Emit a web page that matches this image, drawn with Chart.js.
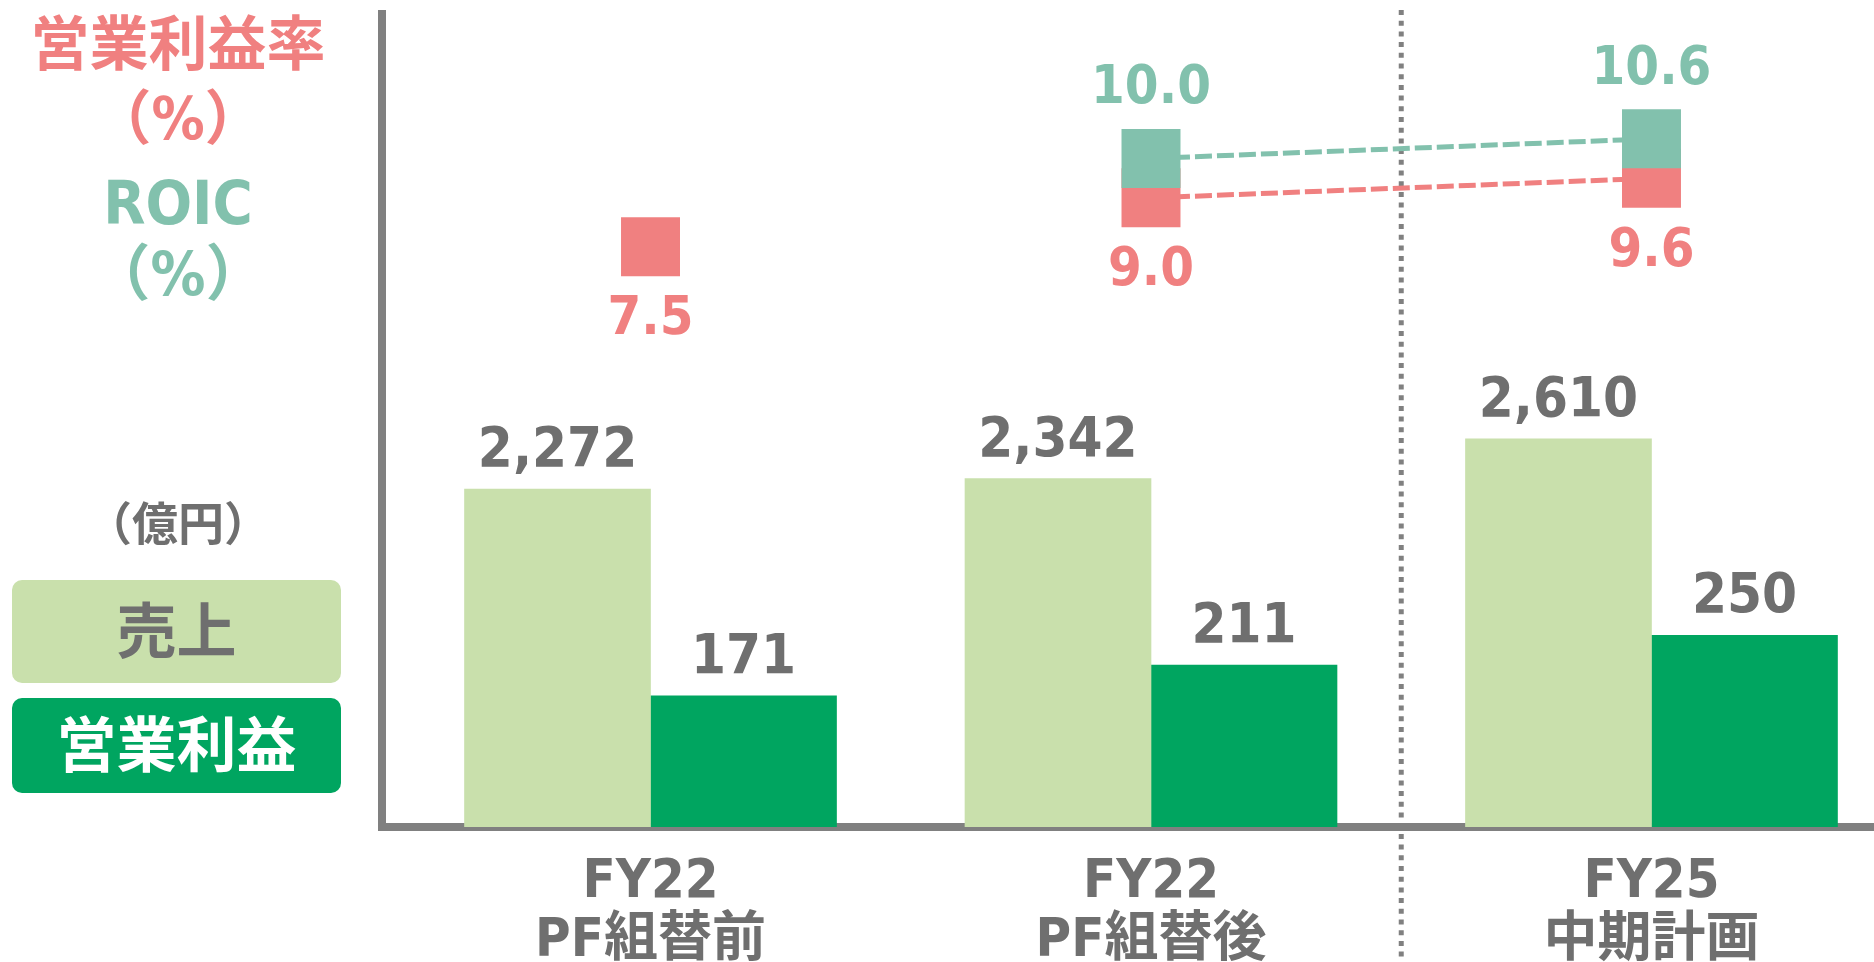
<!DOCTYPE html>
<html lang="ja">
<head>
<meta charset="utf-8">
<title>売上・営業利益・営業利益率・ROIC</title>
<script src="https://cdn.jsdelivr.net/npm/chart.js@4.4.1/dist/chart.umd.min.js"></script>
<style>
  html, body { margin: 0; padding: 0; background: #fff; overflow: hidden; }
  body {
    width: 1874px; height: 962px; position: relative;
    font-family: "DejaVu Sans Condensed", "Noto Sans CJK JP", sans-serif;
    font-weight: bold;
  }
  .chart-wrap { position: absolute; left: 0; top: 0; width: 1874px; height: 962px; }
  .side { position: absolute; left: 0; width: 356px; text-align: center; line-height: 1; white-space: nowrap; }
  .margin-title { color: #F08080; font-size: 59px; }
  .roic-title { color: #82C1AD; font-size: 61px; }
  .unit { color: #6F6F6F; font-size: 46px; }
  .legend-box {
    position: absolute; left: 12px; width: 329px; border-radius: 10px;
    display: flex; align-items: center; justify-content: center;
    font-size: 60px; line-height: 1;
  }
  .legend-sales { top: 580px; height: 103px; background: #C9E0AC; color: #6F6F6F; }
  .legend-profit { top: 698px; height: 95px; background: #00A560; color: #fff; }
</style>
</head>
<body>
<div class="chart-wrap"><canvas id="chart"></canvas></div>

<div class="side margin-title" style="top: 15px;">営業利益率</div>
<div class="side margin-title" style="top: 89px;">（%）</div>
<div class="side roic-title" style="top: 172px;">ROIC</div>
<div class="side roic-title" style="top: 243px;">（%）</div>
<div class="side unit" style="top: 501px;">（億円）</div>
<div class="legend-box legend-sales">売上</div>
<div class="legend-box legend-profit">営業利益</div>

<script>
// categories
const fiscalYears = ["FY22", "FY22", "FY25"];
const periodNotes = ["PF組替前", "PF組替後", "中期計画"];

// 億円
const sales = [2272, 2342, 2610];
const operatingProfit = [171, 211, 250];

// %
const operatingMargin = [7.5, 9.0, 9.6];
const roic = [null, 10.0, 10.6];

const salmon = "#F08080";
const teal = "#82C1AD";
const salesColor = "#C9E0AC";
const profitColor = "#00A560";
const textGray = "#6F6F6F";
const axisGray = "#808080";
const labelFont = '"DejaVu Sans Condensed", "Noto Sans CJK JP", sans-serif';

const toPoints = (values) => values.map((v, i) => ({ x: i, y: v }));

// value labels above bars, above / below the percentage squares
const valueLabels = {
  id: "valueLabels",
  afterDatasetsDraw(chart) {
    const ctx = chart.ctx;
    ctx.save();
    ctx.textAlign = "center";
    ctx.textBaseline = "alphabetic";
    chart.data.datasets.forEach((ds, di) => {
      const meta = chart.getDatasetMeta(di);
      meta.data.forEach((el, i) => {
        const v = ds.data[i].y;
        if (v === null || v === undefined) return;
        if (ds.kind === "amount") {
          ctx.font = "bold 56px " + labelFont;
          ctx.fillStyle = textGray;
          ctx.fillText(v.toLocaleString("en-US"), el.x, el.y - 23);
        } else if (ds.kind === "margin") {
          ctx.font = "bold 54px " + labelFont;
          ctx.fillStyle = salmon;
          ctx.fillText(v.toFixed(1), el.x, el.y + 87.5);
        } else if (ds.kind === "roic") {
          ctx.font = "bold 54px " + labelFont;
          ctx.fillStyle = teal;
          ctx.fillText(v.toFixed(1), el.x, el.y - 55);
        }
      });
    });
    ctx.restore();
  },
};

// dotted separator between actuals and the mid-term plan
const planDivider = {
  id: "planDivider",
  beforeDatasetsDraw(chart) {
    const x = chart.scales.x.getPixelForValue(1.5);
    const ctx = chart.ctx;
    ctx.save();
    ctx.strokeStyle = axisGray;
    ctx.lineWidth = 5;
    ctx.setLineDash([5, 5.7]);
    ctx.beginPath();
    ctx.moveTo(x, chart.chartArea.top - 4);
    ctx.lineTo(x, chart.height - 4);
    ctx.stroke();
    ctx.restore();
  },
};

new Chart(document.getElementById("chart"), {
  type: "bar",
  data: {
    datasets: [
      {
        type: "line",
        kind: "roic",
        label: "ROIC",
        data: toPoints(roic),
        yAxisID: "yRoic",
        order: 0,
        borderColor: teal,
        borderWidth: 5,
        borderDash: [17, 5],
        pointStyle: "rect",
        pointRadius: 41.7,
        pointHoverRadius: 41.7,
        pointBackgroundColor: teal,
        pointBorderWidth: 0,
        fill: false,
      },
      {
        type: "line",
        kind: "margin",
        label: "営業利益率",
        data: toPoints(operatingMargin),
        yAxisID: "yPct",
        order: 1,
        borderColor: salmon,
        borderWidth: 5,
        borderDash: [17, 5],
        segment: {
          borderColor: (c) => (c.p0DataIndex === 0 ? "rgba(0,0,0,0)" : salmon),
        },
        pointStyle: "rect",
        pointRadius: 41.7,
        pointHoverRadius: 41.7,
        pointBackgroundColor: salmon,
        pointBorderWidth: 0,
        fill: false,
      },
      {
        kind: "amount",
        label: "売上",
        data: toPoints(sales),
        yAxisID: "y",
        order: 2,
        backgroundColor: salesColor,
        borderWidth: 0,
      },
      {
        kind: "amount",
        label: "営業利益",
        data: toPoints(operatingProfit),
        yAxisID: "y1",
        order: 2,
        backgroundColor: profitColor,
        borderWidth: 0,
      },
    ],
  },
  options: {
    responsive: true,
    maintainAspectRatio: false,
    animation: false,
    barThickness: 186,
    layout: {
      autoPadding: false,
      padding: { left: 382, top: 14, right: 0, bottom: 0 },
    },
    plugins: {
      legend: { display: false },
      tooltip: { enabled: false },
    },
    scales: {
      x: {
        type: "linear",
        min: -0.5365,
        max: 2.4446,
        offset: false,
        z: 1,
        grid: { display: false, drawTicks: false, offset: false },
        border: { display: true, color: axisGray, width: 8 },
        ticks: {
          stepSize: 1,
          includeBounds: false,
          autoSkip: false,
          maxRotation: 0,
          padding: 26,
          color: textGray,
          font: { family: labelFont, size: 54, weight: "bold", lineHeight: 1.1 },
          callback: (value) =>
            Number.isInteger(value) && fiscalYears[value]
              ? [fiscalYears[value], periodNotes[value]]
              : "",
        },
        afterFit: (scale) => {
          scale.height = 135;
        },
      },
      y: {
        position: "left",
        min: 0,
        max: 5465,
        z: 1,
        grid: { display: false, drawTicks: false },
        border: { display: true, color: axisGray, width: 8 },
        ticks: { display: false },
        afterFit: (scale) => {
          scale.width = 0;
        },
      },
      y1: { display: false, min: 0, max: 1060 },
      yPct: { display: false, min: -10.3, max: 14.64 },
      yRoic: { display: false, min: -10.51, max: 14.43 },
    },
  },
  plugins: [planDivider, valueLabels],
});
</script>
</body>
</html>
